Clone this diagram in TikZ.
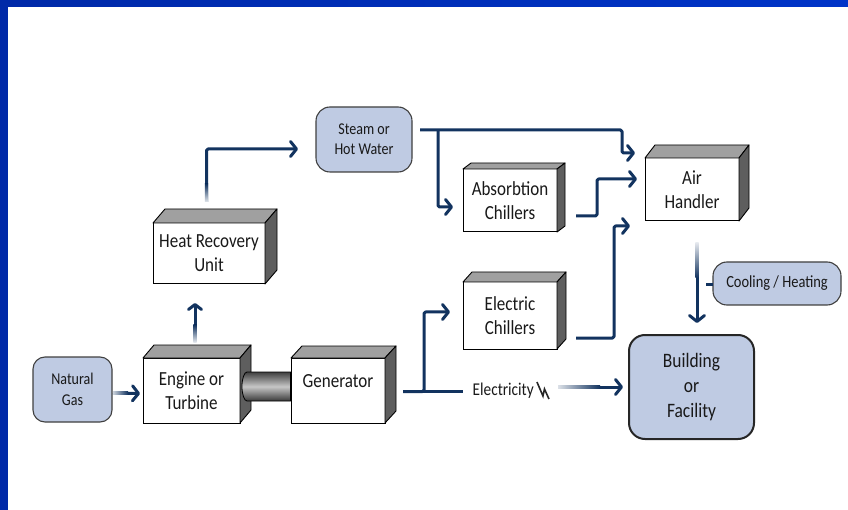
\documentclass[tikz,border=0pt]{standalone}
\usepackage{fontspec}
\setmainfont{Carlito}[FakeStretch=0.85]
\usetikzlibrary{arrows.meta,calc}
\definecolor{navy}{HTML}{12335F}
\definecolor{lblue}{HTML}{BFCBE3}
\definecolor{bord}{HTML}{0034C8}
\definecolor{borddark}{HTML}{0029A8}
\definecolor{topg}{HTML}{A0A0A0}
\definecolor{sideg}{HTML}{5E5E5E}
\newcommand\cubefaces[3]{%
  \filldraw[topface] (#1.north west) -- ++(#2,-#3) -- ($(#1.north east)+(#2,-#3)$) -- (#1.north east) -- cycle;
  \filldraw[sideface] (#1.north east) -- ++(#2,-#3) -- ($(#1.south east)+(#2,-#3)$) -- (#1.south east) -- cycle;}
\begin{document}
\begin{tikzpicture}[x=1pt,y=-1pt,
  cube/.style={draw=black, fill=white, line width=1pt, inner sep=0pt, outer sep=0pt,
    align=center, text=black!90, font=\fontsize{20}{24}\selectfont},
  topface/.style={fill=topg, draw=black, line width=0.9pt, line join=round},
  sideface/.style={fill=sideg, draw=black, line width=0.9pt, line join=round},
  rnode/.style={draw=black!75, fill=lblue, line width=1.1pt, inner sep=0pt, outer sep=0pt,
    rounded corners=12pt, align=center, text=black!90},
  arr/.style={draw=navy, line width=3pt, line join=round, rounded corners=1.5pt,
    -{Straight Barb[length=6pt,width=15pt,round]}},
  sarr/.style={draw=navy, line width=3pt, -{Straight Barb[length=5pt,width=13pt,round]}},
  wire/.style={draw=navy, line width=3pt, line join=round, rounded corners=1.5pt}]
\useasboundingbox (0,0) rectangle (848,510);
% frame
\shade[left color=borddark, right color=bord] (0,0) rectangle (848,7);
\fill[borddark] (0,0) rectangle (8,510);

% boxes
\node[cube, minimum width=112pt, minimum height=61pt] (hru) at (209,253.5) {Heat Recovery\\Unit};
\cubefaces{hru}{12}{14}
\node[cube, minimum width=97pt, minimum height=65pt] (eng) at (191.5,390.5) {Engine or\\Turbine};
\cubefaces{eng}{11}{13}
\node[cube, minimum width=94pt, minimum height=65pt] (gen) at (338,390.5) {\raisebox{3.5pt}[0pt][0pt]{Generator}};
\cubefaces{gen}{11}{12}
\node[cube, minimum width=94pt, minimum height=63pt] (abs) at (510,200.5) {Absorbtion\\Chillers};
\cubefaces{abs}{8}{6}
\node[cube, minimum width=94pt, minimum height=67pt] (ele) at (510,315.5) {Electric\\Chillers};
\cubefaces{ele}{9}{10}
\node[cube, minimum width=94pt, minimum height=63pt] (air) at (692,189.5) {Air\\Handler};
\cubefaces{air}{10}{13}

% shaft
\shadedraw[top color=black!75, bottom color=black!78, middle color=black!22, draw=black, line width=0.8pt]
  (247,372) -- (290.5,372) -- (290.5,401) -- (247,401)
  arc[start angle=90, end angle=270, x radius=5, y radius=14.5] -- cycle;

% rounded nodes
\node[rnode, minimum width=79pt, minimum height=65pt, font=\fontsize{16.5}{21}\selectfont] (gas) at (72.5,389.5) {Natural\\Gas};
\node[rnode, minimum width=96pt, minimum height=65pt, rounded corners=14pt, font=\fontsize{16.5}{20}\selectfont] (steam) at (364,139.5) {Steam or\\Hot Water};
\node[rnode, minimum width=128pt, minimum height=43pt, rounded corners=14pt, font=\fontsize{17}{20}\selectfont] (cool) at (777,283.5) {Cooling / Heating};
\node[rnode, draw=black!85, line width=2pt, minimum width=125pt, minimum height=104pt, rounded corners=16pt, font=\fontsize{20.5}{25}\selectfont] (bldg) at (691.5,387) {Building\\or\\Facility};
\node[anchor=base west, inner sep=0pt, text=black!90, font=\fontsize{18}{20}\selectfont] (elec) at (472.5,395) {Electricity};
% lightning symbol
\draw[black!85, line width=1.6pt, line join=miter] ($(elec.base east)+(3,-13)$) -- ++(6,14) -- ++(1.5,-7) -- ++(4.5,10);

% connectors
\draw[arr] ($(gas.east)+(1,3.5)$) -- ($(eng.west)+(-3,3)$);
\shade[left color=navy!22, right color=navy] (113,391.4) rectangle (128,394.6);

\draw[sarr] ($(eng.north)+(3.5,-16)$) -- ($(hru.south)+(-14,19)$);
\shade[top color=navy, bottom color=navy!12] (193.4,325) rectangle (196.6,342);

\draw[arr] ($(hru.north)+(-2.5,-21)$) |- ($(steam.west)+(-18,9.5)$);
\shade[top color=navy, bottom color=navy!12] (204.9,184) rectangle (208.1,202);

\coordinate (s1) at ($(steam.east)+(8,-9.5)$);
\coordinate (airin1) at ($(air.west)+(-10,-36.5)$);
\draw[arr] (s1) -| ($(airin1)+(-13,0)$) -- (airin1);
\draw[arr] ($(s1)+(18,0)$) |- ($(abs.west)+(-10,6.5)$);

\draw[arr] ($(abs.east)+(19,15.5)$) -- ++(21,0) |- ($(air.west)+(-8,-10.5)$);
\draw[arr] ($(ele.east)+(19,22.5)$) -- ++(38,0) |- ($(air.south west)+(-15,5)$);

\coordinate (gout) at ($(gen.east)+(18,1)$);
\draw[arr] (gout) -- ++(21,0) |- ($(ele.west)+(-13,-3.5)$);
\draw[wire] (gout) -- ($(elec.west |- gout)+(-10,0)$);

\draw[arr] ($(bldg.west)+(-71,0)$) -- ($(bldg.west)+(-6,0)$);
\shade[left color=navy!15, right color=navy] (558,385.4) rectangle (600,388.6);

\draw[arr] ($(air.south)+(5,22)$) -- ($(bldg.north)+(5.5,-12)$);
\shade[top color=navy!12, bottom color=navy] (695.4,243) rectangle (698.6,278);

\draw[wire] ($(cool.west)+(-7,1.5)$) -- ($(cool.west)+(0,1.5)$);
\end{tikzpicture}
\end{document}
